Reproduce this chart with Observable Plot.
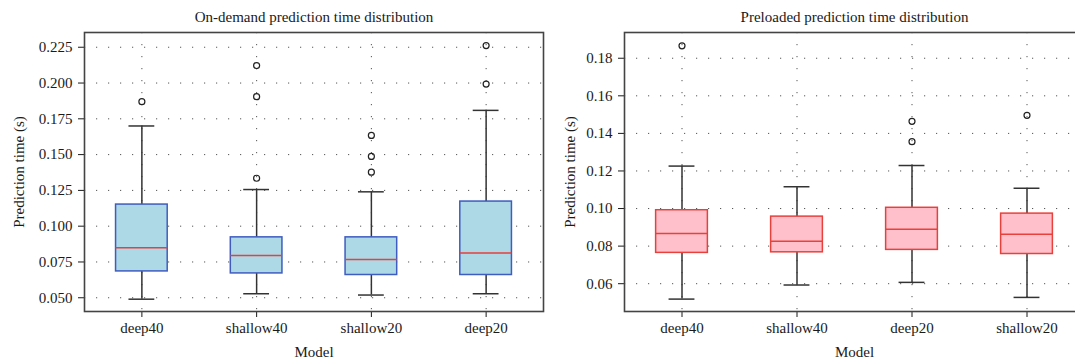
<!DOCTYPE html>
<html>
<head>
<meta charset="utf-8">
<script src="https://cdn.jsdelivr.net/npm/d3@7"></script>
<script src="https://cdn.jsdelivr.net/npm/@observablehq/plot@0.6"></script>
<style>
  html, body { margin: 0; padding: 0; background: #fff; overflow: hidden; }
  #wrap { width: 1075px; height: 364px; overflow: hidden; display: flex; flex-direction: row; }
  #wrap svg { flex: none; }
</style>
</head>
<body>
<div id="wrap"></div>
<script>
// ---------- Data: On-demand panel ----------
const leftModels = ["deep40", "shallow40", "shallow20", "deep20"];
const leftLow    = [0.0490, 0.0528, 0.0519, 0.0528];
const leftQ1     = [0.0684, 0.0670, 0.0659, 0.0659];
const leftMedian = [0.0850, 0.0796, 0.0768, 0.0813];
const leftQ3     = [0.1151, 0.0922, 0.0922, 0.1172];
const leftHigh   = [0.1700, 0.1256, 0.1240, 0.1809];
const leftOutlierModel = ["deep40", "shallow40", "shallow40", "shallow40", "shallow20", "shallow20", "shallow20", "deep20", "deep20"];
const leftOutlierValue = [0.1870, 0.1335, 0.1905, 0.2122, 0.1377, 0.1487, 0.1634, 0.1993, 0.2262];
const leftYTicks = [0.050, 0.075, 0.100, 0.125, 0.150, 0.175, 0.200, 0.225];
const leftYDomain = [0.0404, 0.2353];

// ---------- Data: Preloaded panel ----------
const rightModels = ["deep40", "shallow40", "deep20", "shallow20"];
const rightLow    = [0.0518, 0.0593, 0.0607, 0.0527];
const rightQ1     = [0.0764, 0.0767, 0.0780, 0.0758];
const rightMedian = [0.0867, 0.0826, 0.0890, 0.0863];
const rightQ3     = [0.0991, 0.0957, 0.1004, 0.0973];
const rightHigh   = [0.1226, 0.1116, 0.1229, 0.1108];
const rightOutlierModel = ["deep40", "deep20", "deep20", "shallow20"];
const rightOutlierValue = [0.1866, 0.1356, 0.1464, 0.1496];
const rightYTicks = [0.06, 0.08, 0.10, 0.12, 0.14, 0.16, 0.18];
const rightYDomain = [0.0452, 0.1937];

const FONT = "'Liberation Serif', 'DejaVu Serif', serif";
const FS = 15;
const BOX_W = 0.45;   // box width in category units
const CAP_W = 0.225;  // whisker cap width

function panel(o) {
  const idx = o.models.map((_, i) => i);
  const pos = i => i + 1;
  const outIdx = o.outModel.map((_, j) => j);
  const grid = { stroke: "#555", strokeWidth: 1, strokeDasharray: "1.2,10.8" };
  const wh = { stroke: "#333", strokeWidth: 1.5 };
  return Plot.plot({
    width: o.width,
    height: 364,
    marginTop: 32,
    marginBottom: 53,
    marginLeft: o.marginLeft,
    marginRight: o.marginRight,
    style: { fontFamily: FONT, fontSize: FS + "px", color: "#1a1a1a", background: "#fff", overflow: "visible" },
    x: {
      type: "linear",
      domain: [0.5, 4.5],
      ticks: idx.map(pos),
      tickFormat: d => o.models[Math.round(d) - 1],
      tickSize: 6,
      tickPadding: 5,
      label: null
    },
    y: {
      domain: o.yDomain,
      ticks: o.yTicks,
      tickFormat: o.yFmt,
      tickSize: 6,
      tickPadding: 6,
      label: null
    },
    marks: [
      Plot.ruleY(o.yTicks, grid),
      Plot.ruleX(idx.map(pos), grid),
      Plot.ruleX(idx, { x: pos, y1: i => o.low[i], y2: i => o.q1[i], ...wh }),
      Plot.ruleX(idx, { x: pos, y1: i => o.q3[i], y2: i => o.high[i], ...wh }),
      Plot.ruleY(idx, { y: i => o.low[i], x1: i => pos(i) - CAP_W / 2, x2: i => pos(i) + CAP_W / 2, ...wh }),
      Plot.ruleY(idx, { y: i => o.high[i], x1: i => pos(i) - CAP_W / 2, x2: i => pos(i) + CAP_W / 2, ...wh }),
      Plot.rect(idx, {
        x1: i => pos(i) - BOX_W / 2, x2: i => pos(i) + BOX_W / 2,
        y1: i => o.q1[i], y2: i => o.q3[i],
        fill: o.fill, stroke: o.stroke, strokeWidth: 1.5
      }),
      Plot.ruleY(idx, { y: i => o.med[i], x1: i => pos(i) - BOX_W / 2, x2: i => pos(i) + BOX_W / 2, stroke: "#e8413c", strokeWidth: 1.5 }),
      Plot.dot(outIdx, {
        x: j => o.models.indexOf(o.outModel[j]) + 1,
        y: j => o.outValue[j],
        r: 3, fill: "none", stroke: "#222", strokeWidth: 1.2
      }),
      Plot.frame({ stroke: "#444", strokeWidth: 1.6 }),
      Plot.text([o.title], { frameAnchor: "top", dy: -15, lineAnchor: "middle", fontSize: FS, fill: "#1a1a1a" }),
      Plot.text(["Prediction time (s)"], { frameAnchor: "left", dx: o.ylabelDx, rotate: -90, textAnchor: "middle", lineAnchor: "middle", fontSize: FS, fill: "#1a1a1a" }),
      Plot.text(["Model"], { frameAnchor: "bottom", dy: 41, lineAnchor: "middle", fontSize: FS, fill: "#1a1a1a" })
    ]
  });
}

const wrap = document.getElementById("wrap");
wrap.appendChild(panel({
  models: leftModels, low: leftLow, q1: leftQ1, med: leftMedian, q3: leftQ3, high: leftHigh,
  outModel: leftOutlierModel, outValue: leftOutlierValue,
  yDomain: leftYDomain, yTicks: leftYTicks, yFmt: d3.format(".3f"),
  title: "On-demand prediction time distribution",
  fill: "#add8e6", stroke: "#3f5cc0",
  width: 560, marginLeft: 84, marginRight: 17, ylabelDx: -65
}));
wrap.appendChild(panel({
  models: rightModels, low: rightLow, q1: rightQ1, med: rightMedian, q3: rightQ3, high: rightHigh,
  outModel: rightOutlierModel, outValue: rightOutlierValue,
  yDomain: rightYDomain, yTicks: rightYTicks, yFmt: d3.format(".2f"),
  title: "Preloaded prediction time distribution",
  fill: "#ffc0cb", stroke: "#e8413c",
  width: 560, marginLeft: 64, marginRight: 36, ylabelDx: -54
}));
</script>
</body>
</html>
